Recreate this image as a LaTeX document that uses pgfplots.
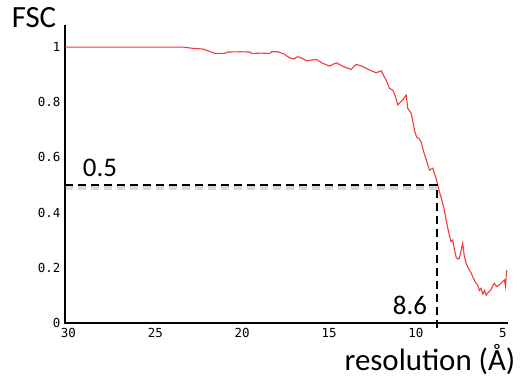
\documentclass[border=0pt]{standalone}
\usepackage{fontspec}
\setmainfont{Carlito}
\newfontfamily\tickfont{DejaVu Sans Mono}
\usepackage{pgfplots}
\pgfplotsset{compat=1.18}
\definecolor{fscred}{RGB}{240,60,60}
\begin{document}
\begin{tikzpicture}
\useasboundingbox (-65bp,-58bp) rectangle (461bp,323bp);
\begin{axis}[
  at={(0,0)}, anchor=south west,
  scale only axis, width=443bp, height=298bp,
  x dir=reverse, xmin=4.5, xmax=30, ymin=0, ymax=1.08,
  axis lines=left,
  axis line style={-, line width=1.6bp, black},
  xtick={30,25,20,15,10,5}, xticklabels={30,25,20,15,10,5},
  ytick={0,0.2,0.4,0.6,0.8,1}, yticklabels={0,0.2,0.4,0.6,0.8,1},
  tick label style={font=\tickfont\fontsize{12.5}{12.5}\selectfont},
  xticklabel style={xshift=3.5bp, yshift=-1bp},
  major tick length=2bp,
  tick style={black, line width=1bp},
  clip=false,
]
\addplot[color=fscred, line width=1.1bp] coordinates {
(30,1.0) (28,1.0) (26,1.0) (24.5,1.0) (23.97,1.0) (23.22,1.0) (22.6,0.995)
(22.07,0.993) (21.7,0.985) (21.38,0.977) (20.80,0.977) (20.63,0.982) (19.9,0.983)
(19.37,0.982) (19.25,0.977) (18.7,0.978) (18.22,0.977) (18.10,0.983) (17.76,0.983)
(17.4,0.975) (17.1,0.962) (16.84,0.957) (16.61,0.965) (16.3,0.958) (16.09,0.950)
(15.8,0.953) (15.52,0.955) (15.2,0.942) (14.77,0.931) (14.6,0.937) (14.37,0.943)
(14.0,0.930) (13.75,0.924) (13.52,0.919) (13.24,0.937) (13.0,0.933) (12.76,0.926)
(12.4,0.915) (12.09,0.907) (11.80,0.914) (11.65,0.895) (11.51,0.880) (11.32,0.850)
(11.13,0.844) (11.0,0.825) (10.84,0.790) (10.7,0.800) (10.56,0.808) (10.36,0.826)
(10.27,0.778) (10.07,0.760) (9.95,0.720) (9.85,0.690) (9.75,0.673) (9.62,0.668)
(9.50,0.657) (9.35,0.620) (9.2,0.590) (9.02,0.554) (8.83,0.561) (8.64,0.524)
(8.55,0.500) (8.45,0.476) (8.35,0.455) (8.26,0.434) (8.15,0.405) (8.06,0.373)
(7.92,0.330) (7.78,0.295) (7.68,0.301) (7.58,0.265) (7.49,0.240) (7.40,0.232)
(7.30,0.234) (7.20,0.262) (7.11,0.289) (7.02,0.245) (6.91,0.216) (6.75,0.195)
(6.63,0.182) (6.53,0.168) (6.40,0.150) (6.25,0.138) (6.15,0.118) (6.05,0.126)
(5.95,0.105) (5.85,0.118) (5.76,0.101) (5.62,0.112) (5.48,0.120) (5.38,0.135)
(5.29,0.144) (5.15,0.132) (5.00,0.138) (4.85,0.148) (4.71,0.156) (4.64,0.132)
(4.60,0.175) (4.56,0.192)
};
\draw[gray, opacity=0.3, line width=4bp, dash pattern=on 8bp off 5bp]
  (axis cs:30,0.488) -- (axis cs:8.6,0.488);
\draw[black, line width=2.2bp, dash pattern=on 8bp off 5bp]
  (axis cs:30,0.5) -- (axis cs:8.6,0.5) -- (axis cs:8.6,-0.025);
\end{axis}
\node[font=\fontsize{31}{31}\selectfont] at (-31bp,305bp) {FSC};
\node[font=\fontsize{27}{27}\selectfont] at (35bp,155bp) {0.5};
\node[font=\fontsize{27}{27}\selectfont] at (345bp,18bp) {8.6};
\node[font=\fontsize{31}{31}\selectfont] at (365bp,-37bp) {resolution (Å)};
\end{tikzpicture}
\end{document}
